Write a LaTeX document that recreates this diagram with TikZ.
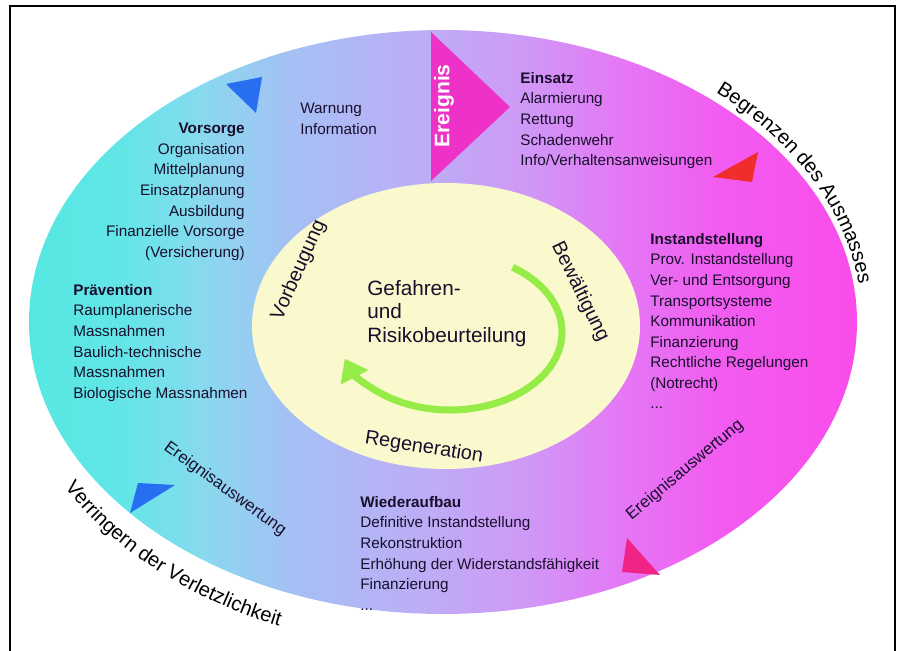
\documentclass[tikz,border=0pt]{standalone}
\usepackage{fontspec}
\setmainfont{Liberation Sans}
\usetikzlibrary{arrows.meta,decorations.text}

\definecolor{txtdark}{RGB}{25,15,45}
\definecolor{ereignispink}{RGB}{238,50,200}
\definecolor{markblue}{RGB}{40,110,240}
\definecolor{markred}{RGB}{240,45,45}
\definecolor{markrose}{RGB}{240,35,135}
\definecolor{kernyellow}{RGB}{250,249,205}
\definecolor{cyclegreen}{RGB}{150,236,70}
\definecolor{rc1}{RGB}{85,232,226}
\definecolor{rc2}{RGB}{100,229,232}
\definecolor{rc3}{RGB}{135,218,238}
\definecolor{rc4}{RGB}{165,192,245}
\definecolor{rc5}{RGB}{190,172,246}
\definecolor{rc6}{RGB}{206,154,246}
\definecolor{rc7}{RGB}{228,120,245}
\definecolor{rc8}{RGB}{242,92,240}
\definecolor{rc9}{RGB}{250,76,234}

\pgfdeclarehorizontalshading{ringshade}{100bp}{color(0bp)=(rc1); color(25bp)=(rc1);
  color(31bp)=(rc2); color(35.3bp)=(rc3); color(40.8bp)=(rc4); color(49.2bp)=(rc5);
  color(54.7bp)=(rc6); color(60.7bp)=(rc7); color(66.7bp)=(rc8); color(75bp)=(rc9);
  color(100bp)=(rc9)}

\newcommand{\listfont}{\fontsize{8.7}{11.7}\selectfont}
\newcommand{\phasefont}{\fontsize{11.3}{13}\selectfont}
\newcommand{\rimfont}{\fontsize{11.5}{13}\selectfont}

\tikzset{
  liste/.style={font=\listfont, text=txtdark, inner sep=0pt, align=left},
  liste rechts/.style={liste, align=right, anchor=north east},
  phase/.style={font=\phasefont, text=txtdark, inner sep=0pt},
  auswertung/.style={font=\fontsize{9.5}{11}\selectfont, text=txtdark, inner sep=0pt},
}

\begin{document}
\begin{tikzpicture}[x=0.02cm, y=-0.02cm]
    \clip (0,0) rectangle (899,651);
    \draw[line width=1.1pt] (10,660) |- (895,6) -- (895,660);

    % the two ellipses
    \coordinate (C) at (443,322);
    \coordinate (K) at (446,326);
    \shade[shading=ringshade] (C) ellipse [x radius=414, y radius=292];
    \fill[kernyellow] (K) ellipse [x radius=194, y radius=143];

    % markers
    \fill[ereignispink] (431,32) -- (510,107) -- (431,181) -- cycle;
    \fill[markblue] (226,84) -- (262,77) -- (256,113) -- cycle;
    \fill[markred] (713,177) -- (758,152) -- (752,182) -- cycle;
    \fill[markrose] (627,538) -- (622,572) -- (660,575) -- cycle;
    \fill[markblue] (138,483) -- (175,485) -- (130,513) -- cycle;
    \node[rotate=90, text=white, inner sep=0pt, font=\bfseries\fontsize{12}{14}\selectfont] (ereignis) at (444,106) {Ereignis};

    % cycle arrow
    \coordinate (Z) at (450,332);
    \draw[cyclegreen, line width=4pt, -{Triangle[length=12pt, width=17pt]}]
        ([shift={(-56:112 and 78)}]Z) arc [start angle=-56, end angle=160, x radius=112, y radius=78];

    % centre and phases
    \node[liste, font=\fontsize{11.8}{13.3}\selectfont, anchor=north west] (kern) at (367,280) {Gefahren-\\und\\Risikobeurteilung};
    \node[phase, rotate=66] (vorbeugung) at (299,270) {Vorbeugung};
    \node[phase, rotate=-64] (bewaeltigung) at (580,292) {Bewältigung};
    \node[phase, rotate=-9] (regeneration) at (424,448) {Regeneration};
    \node[auswertung, rotate=-36] (auswertlinks) at (225,489) {Ereignisauswertung};
    \node[auswertung, rotate=40] (auswertrechts) at (685,470) {Ereignisauswertung};

    % lists
    \node[liste rechts] (vorsorge) at (245,123) {\textbf{Vorsorge}\\Organisation\\Mittelplanung\\Einsatzplanung\\Ausbildung\\Finanzielle Vorsorge\\(Versicherung)};
    \node[liste, anchor=north west] (warnung) at (300,103) {Warnung\\Information};
    \node[liste, anchor=north west] (praevention) at (73,284) {\textbf{Prävention}\\Raumplanerische\\Massnahmen\\Baulich-technische\\Massnahmen\\Biologische Massnahmen};
    \node[liste, anchor=north west] (einsatz) at (520,72) {\textbf{Einsatz}\\Alarmierung\\Rettung\\Schadenwehr\\Info/Verhaltensanweisungen};
    \node[liste, anchor=north west] (instandstellung) at (650,233) {\textbf{Instandstellung}\\Prov. Instandstellung\\Ver- und Entsorgung\\Transportsysteme\\Kommunikation\\Finanzierung\\Rechtliche Regelungen\\(Notrecht)\\...};
    \node[liste, anchor=north west] (wiederaufbau) at (360,496) {\textbf{Wiederaufbau}\\Definitive Instandstellung\\Rekonstruktion\\Erhöhung der Widerstandsfähigkeit\\Finanzierung\\...};

    % rim labels
    \path[decorate, decoration={text along path, text align=center,
        text={|\rimfont|Begrenzen des Ausmasses}}]
        ([shift={(-52:419 and 302)}]C) arc [start angle=-52, end angle=-4, x radius=419, y radius=302];
    \path[decorate, decoration={text along path, text align=center,
        text={|\rimfont|Verringern der Verletzlichkeit}}]
        ([shift={(162:438 and 328)}]C) arc [start angle=162, end angle=102, x radius=438, y radius=328];
\end{tikzpicture}
\end{document}
